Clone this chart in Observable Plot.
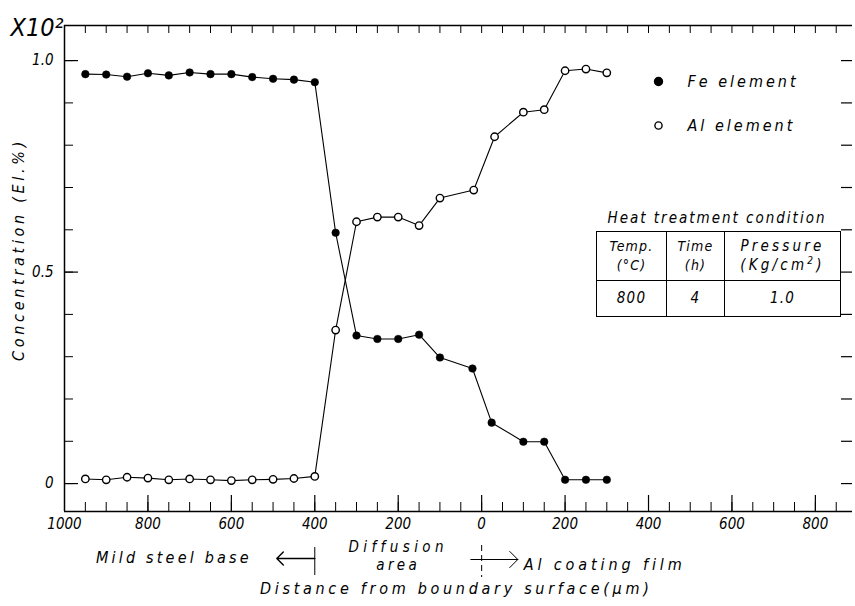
<!DOCTYPE html>
<html>
<head>
<meta charset="utf-8">
<script src="https://cdn.jsdelivr.net/npm/d3@7"></script>
<script src="https://cdn.jsdelivr.net/npm/@observablehq/plot@0.6"></script>
<style>
  html, body { margin: 0; padding: 0; background: #fff; }
  #wrap { position: relative; width: 855px; height: 606px; overflow: hidden; }
  #wrap svg { font-family: "DejaVu Sans Condensed", "DejaVu Sans", sans-serif; font-style: italic; }
  #tbl-title { position: absolute; left: 596px; top: 209px; width: 242px; text-align: center;
    font: italic 15px "DejaVu Sans Condensed", "DejaVu Sans", sans-serif; letter-spacing: 2px; }
  #tbl { position: absolute; left: 596px; top: 231px; border-collapse: collapse;
    font: italic 14px "DejaVu Sans Condensed", "DejaVu Sans", sans-serif; letter-spacing: 1.2px; }
  #tbl td { border: 1.4px solid #000; text-align: center; padding: 0; line-height: 19px; }
  #tbl tr.h td { height: 48px; }
  #tbl tr.h td:nth-child(3) { letter-spacing: 3.2px; font-size: 15px; }
  #tbl tr.d td { height: 35px; font-size: 15px; }
</style>
</head>
<body>
<div id="wrap"></div>
<script>
// ---- data ----
const feX = [-950,-900,-850,-800,-750,-700,-650,-600,-550,-500,-450,-400,-350,-300,-250,-200,-150,-100,-22,24,100,150,200,250,300];
const feY = [0.968,0.967,0.962,0.970,0.965,0.972,0.968,0.968,0.961,0.957,0.955,0.949,0.593,0.350,0.342,0.342,0.352,0.298,0.272,0.144,0.099,0.099,0.009,0.009,0.009];
const alX = [-950,-900,-850,-800,-750,-700,-650,-600,-550,-500,-450,-400,-350,-300,-250,-200,-150,-100,-19,31,100,150,200,250,300];
const alY = [0.011,0.009,0.015,0.013,0.009,0.011,0.009,0.007,0.009,0.010,0.012,0.017,0.363,0.619,0.630,0.630,0.610,0.675,0.694,0.820,0.878,0.884,0.976,0.980,0.971];
const xTickLabels = [-1000,-800,-600,-400,-200,0,200,400,600,800];
const xMinorTicks = d3.range(-950, 851, 50);
const yTickLabels = [0, 0.5, 1.0];
const yMinorTicks = d3.range(0, 11).map(i => i / 10);
const seriesNames = ["Fe element", "Al element"];
const tableHeader = [["Temp.", "(°C)"], ["Time", "(h)"], ["Pressure", "(Kg/cm²)"]];
const tableRow = ["800", "4", "1.0"];
const tableTitle = "Heat treatment condition";
const xDomain = [-1000, 889];
const yDomain = [-0.066, 1.083];

const fe = feX.map((x, i) => ({x, y: feY[i]}));
const al = alX.map((x, i) => ({x, y: alY[i]}));

const W = 855, H = 606, mL = 64, mR = 3, mT = 25, mB = 95;
const fW = W - mL - mR, fH = H - mT - mB;
const font = 15, noteFont = 16;

const legendMarks = seriesNames.flatMap((name, i) => [
  Plot.dot([name], {frameAnchor: "top-left", dx: 594, dy: 56 + i * 44, r: i === 0 ? 4 : 3.6,
    fill: i === 0 ? "black" : "white", stroke: "black", strokeWidth: 1.4}),
  Plot.text([name], {frameAnchor: "top-left", dx: 623, dy: 56 + i * 44, textAnchor: "start", lineAnchor: "middle",
    fontSize: noteFont})
]);

const note = (txt, opts) => Plot.text([txt], {frameAnchor: "bottom", lineAnchor: "middle", fontSize: noteFont, ...opts});

const chart = Plot.plot({
  width: W, height: H,
  marginLeft: mL, marginRight: mR, marginTop: mT, marginBottom: mB,
  x: {domain: xDomain, axis: null},
  y: {domain: yDomain, axis: null},
  marks: [
    // frame lines
    Plot.ruleX([xDomain[0]], {stroke: "black", strokeWidth: 1.5}),
    Plot.ruleY([yDomain[0]], {stroke: "black", strokeWidth: 1.5}),
    Plot.ruleY([yDomain[1]], {stroke: "black", strokeWidth: 1.5}),
    // bottom ticks (pointing up)
    Plot.ruleX(xMinorTicks, {stroke: "black", strokeWidth: 1, insetTop: fH - 9}),
    Plot.ruleX(xTickLabels.slice(1), {stroke: "black", strokeWidth: 1.2, insetTop: fH - 16}),
    // top ticks (pointing down)
    Plot.ruleX(xMinorTicks, {stroke: "black", strokeWidth: 1, insetBottom: fH - 8}),
    // left ticks (pointing right)
    Plot.ruleY(yMinorTicks, {stroke: "black", strokeWidth: 1, insetRight: fW - 9}),
    Plot.ruleY(yTickLabels, {stroke: "black", strokeWidth: 1.2, insetRight: fW - 14}),
    // right ticks (pointing left)
    Plot.ruleY(yMinorTicks, {stroke: "black", strokeWidth: 1.2, insetLeft: fW - 11}),
    // series
    Plot.line(fe, {x: "x", y: "y", stroke: "black", strokeWidth: 1.1}),
    Plot.line(al, {x: "x", y: "y", stroke: "black", strokeWidth: 1.1}),
    Plot.dot(fe, {x: "x", y: "y", r: 3.8, fill: "black", stroke: "black", strokeWidth: 0.5}),
    Plot.dot(al, {x: "x", y: "y", r: 3.7, fill: "white", stroke: "black", strokeWidth: 1.4}),
    // tick labels
    Plot.text(xTickLabels, {x: d => d, frameAnchor: "bottom", lineAnchor: "middle", dy: 13,
      text: d => String(Math.abs(d)), fontSize: font}),
    Plot.text(yTickLabels, {y: d => d, frameAnchor: "left", dx: -11, textAnchor: "end", lineAnchor: "middle",
      text: d => d === 0 ? "0" : d.toFixed(1), fontSize: font}),
    // multiplier and y label
    Plot.text(["X10²"], {frameAnchor: "top-left", dx: -54, dy: 2, textAnchor: "start", lineAnchor: "middle", fontSize: 25}),
    Plot.text(["Concentration (El.%)"], {frameAnchor: "left", dx: -46, dy: -19, rotate: -90,
      textAnchor: "middle", lineAnchor: "middle", fontSize: noteFont}),
    // legend
    ...legendMarks,
    // bottom annotations
    note("Mild steel base", {x: -400, dx: -63, dy: 46, textAnchor: "end"}),
    Plot.vector([0], {x: -400, frameAnchor: "bottom", dy: 47, length: 38, rotate: -90, anchor: "start", r: 3, stroke: "black", strokeWidth: 1.4}),
    Plot.ruleX([-400], {stroke: "black", strokeWidth: 1, insetTop: fH + 36, insetBottom: -64}),
    note("Diffusion", {x: -200, dy: 36, fontSize: 15}),
    note("area", {x: -200, dy: 54, fontSize: 15}),
    Plot.vector([0], {x: -26, frameAnchor: "bottom", dy: 48, length: 47, rotate: 90, anchor: "start", r: 3, stroke: "black", strokeWidth: 1}),
    Plot.ruleX([0], {stroke: "black", strokeWidth: 1, strokeDasharray: "6,4", insetTop: fH + 34, insetBottom: -66}),
    note("Al coating film", {x: 0, dx: 42, dy: 53, textAnchor: "start"}),
    note("Distance from boundary surface(μm)", {x: -200, dx: 58, dy: 77})
  ]
});

// letter spacing of the hand-lettered notes
const spacing = {"Mild steel base": 3.2, "Diffusion": 4.4, "area": 3.4, "Al coating film": 3.9,
  "Distance from boundary surface(μm)": 3.7, "Fe element": 3, "Al element": 3, "Concentration (El.%)": 3.7};
d3.select(chart).selectAll("text").each(function() {
  const s = spacing[this.textContent];
  if (s) this.setAttribute("letter-spacing", s);
});

const wrap = document.getElementById("wrap");
wrap.appendChild(chart);

// heat-treatment table
const title = document.createElement("div");
title.id = "tbl-title";
title.textContent = tableTitle;
wrap.appendChild(title);
const tbl = document.createElement("table");
tbl.id = "tbl";
const widths = [69, 57, 115];
const trh = document.createElement("tr"); trh.className = "h";
tableHeader.forEach((lines, i) => {
  const td = document.createElement("td");
  td.style.width = widths[i] + "px";
  td.innerHTML = lines.map(s => s.replace("²", "<sup style='font-size:10px;line-height:0'>2</sup>")).join("<br>");
  trh.appendChild(td);
});
const trd = document.createElement("tr"); trd.className = "d";
tableRow.forEach((v, i) => {
  const td = document.createElement("td");
  td.style.width = widths[i] + "px";
  td.textContent = v;
  trd.appendChild(td);
});
tbl.appendChild(trh); tbl.appendChild(trd);
wrap.appendChild(tbl);
</script>
</body>
</html>
